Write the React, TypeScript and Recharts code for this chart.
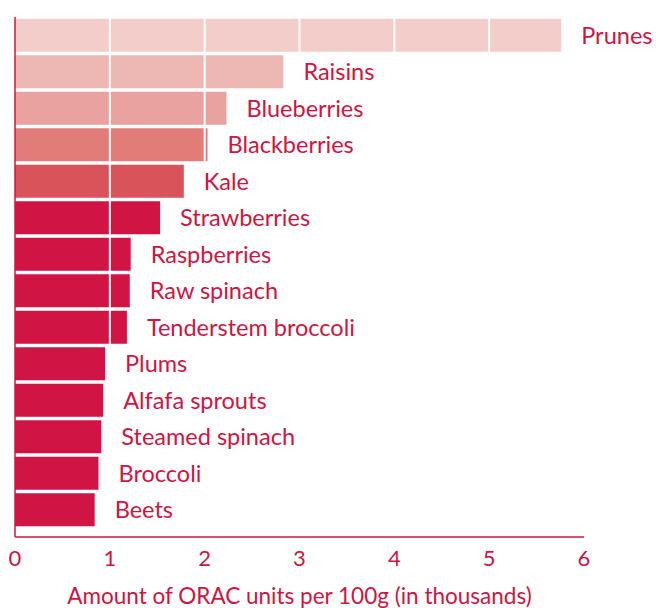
import React from 'react';
import { BarChart, Bar, XAxis, YAxis, Cell, LabelList, ReferenceLine, Label } from 'recharts';

const foods = [
    'Prunes', 'Raisins', 'Blueberries', 'Blackberries', 'Kale', 'Strawberries', 'Raspberries',
    'Raw spinach', 'Tenderstem broccoli', 'Plums', 'Alfafa sprouts', 'Steamed spinach', 'Broccoli', 'Beets',
];
const oracThousands = [5.76, 2.83, 2.23, 2.03, 1.78, 1.53, 1.22, 1.21, 1.18, 0.95, 0.93, 0.91, 0.88, 0.84];
const barColors = [
    '#f3cdc9', '#edb8b3', '#e9a29f', '#e27c79', '#d9535b', '#d01443', '#d01443',
    '#d01443', '#d01443', '#d01443', '#d01443', '#d01443', '#d01443', '#d01443',
];
const xTicks = [0, 1, 2, 3, 4, 5, 6];
const gridValues = [1, 2, 3, 4, 5];

const CRIMSON = '#d01443';
const FONT = 'Lato, sans-serif';

const data = foods.map((name, i) => ({ name, value: oracThousands[i] }));

const App: React.FC = () => {
    return (
        <div style={{ position: 'absolute', left: 0, top: 0, width: 656, height: 608, background: '#fff' }}>
            <BarChart
                width={656}
                height={608}
                data={data}
                layout="vertical"
                barCategoryGap="5%"
                margin={{ top: 17, right: 72, left: 14, bottom: 0 }}
            >
                <XAxis
                    type="number"
                    domain={[0, 6]}
                    ticks={xTicks}
                    tickLine={false}
                    tickMargin={7}
                    height={71}
                    axisLine={{ stroke: CRIMSON, strokeWidth: 1.5 }}
                    tick={{ fill: CRIMSON, fontSize: 22, fontFamily: FONT }}
                >
                    <Label
                        value="Amount of ORAC units per 100g (in thousands)"
                        position="insideBottom"
                        offset={4}
                        style={{ fill: CRIMSON, fontSize: 22.5, fontFamily: FONT }}
                    />
                </XAxis>
                <YAxis
                    type="category"
                    dataKey="name"
                    width={1}
                    tick={false}
                    tickLine={false}
                    padding={{ top: 0, bottom: 9 }}
                    axisLine={{ stroke: CRIMSON, strokeWidth: 1.5 }}
                />
                <Bar dataKey="value" isAnimationActive={false}>
                    {data.map((d, i) => (
                        <Cell key={d.name} fill={barColors[i]} />
                    ))}
                    <LabelList
                        dataKey="name"
                        position="right"
                        offset={20}
                        style={{ fill: CRIMSON, fontSize: 23.5, fontFamily: FONT }}
                    />
                </Bar>
                {gridValues.map((v) => (
                    <ReferenceLine key={v} x={v} stroke="#fff" strokeWidth={2} segment={[{ x: v, y: foods[0] }, { x: v, y: foods[foods.length - 1] }]} />
                ))}
            </BarChart>
        </div>
    );
};

export default App;
